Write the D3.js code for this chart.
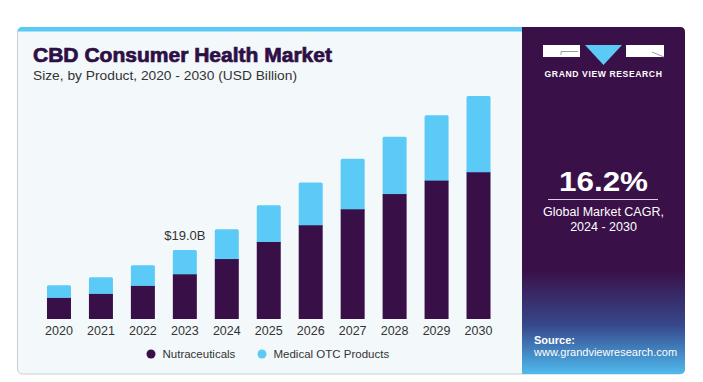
<!DOCTYPE html>
<html><head><meta charset="utf-8">
<script src="https://cdn.jsdelivr.net/npm/d3@7/dist/d3.min.js"></script>
<style>body{margin:0;background:#fff;}svg{display:block;}</style>
</head><body>
<svg id="c" width="703" height="382"></svg>
<script>
const years = ["2020","2021","2022","2023","2024","2025","2026","2027","2028","2029","2030"];
const nutraceuticals = [5.8, 6.9, 9.1, 12.3, 16.5, 21.2, 25.8, 30.2, 34.4, 38.1, 40.4];
const medicalOTC = [3.5, 4.6, 5.7, 6.7, 8.2, 10.1, 11.8, 13.9, 15.8, 18.0, 21.0];
const seriesNames = ["Nutraceuticals", "Medical OTC Products"];
const seriesColors = ["#381047", "#5ccaf6"];
const annotation = {year: "2023", text: "$19.0B"};

const svg = d3.select("#c");
const defs = svg.append("defs");
const grad = defs.append("linearGradient").attr("id","pg").attr("x1",0).attr("y1",0).attr("x2",0).attr("y2",1);
grad.append("stop").attr("offset","0").attr("stop-color","#3a1049");
grad.append("stop").attr("offset","0.70").attr("stop-color","#3a1049");
grad.append("stop").attr("offset","0.86").attr("stop-color","#36488b");
grad.append("stop").attr("offset","1").attr("stop-color","#4fbaee");

// card
svg.append("rect").attr("x",17.5).attr("y",27.5).attr("width",667).attr("height",346.5).attr("rx",5)
  .attr("fill","#f3f8fb").attr("stroke","#c9cdd0").attr("stroke-width",1);
svg.append("path").attr("d","M17.5,32 Q17.5,27 22.5,27 L522,27 L522,31.5 L17.5,31.5 Z").attr("fill","#5ccaf6");
// right panel
svg.append("path").attr("d","M522,27 L680,27 Q685,27 685,32 L685,369 Q685,374 680,374 L522,374 Z").attr("fill","url(#pg)");

// logo
const lg = svg.append("g");
lg.append("rect").attr("x",543).attr("y",45).attr("width",37).attr("height",12).attr("fill","#fff");
lg.append("path").attr("d","M561,55 L561,51.5 L578,51.5").attr("fill","none").attr("stroke","#8a7f92").attr("stroke-width",0.8);
lg.append("path").attr("d","M585,45 L622,45 L603.5,65 Z").attr("fill","#5ccaf6");
lg.append("rect").attr("x",626).attr("y",45).attr("width",38).attr("height",12).attr("fill","#fff");
lg.append("path").attr("d","M652,52 L664,57").attr("fill","none").attr("stroke","#8a7f92").attr("stroke-width",0.8);
svg.append("text").attr("x",603.5).attr("y",77).attr("text-anchor","middle").attr("fill","#fff")
  .attr("font-family","Liberation Sans, Arial, sans-serif").attr("font-weight","bold").attr("font-size",8.6)
  .attr("letter-spacing",0.6).text("GRAND VIEW RESEARCH");

// CAGR
svg.append("text").attr("x",603.5).attr("y",191).attr("text-anchor","middle").attr("fill","#fff")
  .attr("font-family","Liberation Sans, Arial, sans-serif").attr("font-weight","bold").attr("font-size",28)
  .attr("textLength",89).attr("lengthAdjust","spacingAndGlyphs").text("16.2%");
svg.append("line").attr("x1",548).attr("x2",658).attr("y1",199.5).attr("y2",199.5).attr("stroke","#d9cfe0").attr("stroke-width",1);
svg.append("text").attr("x",603.5).attr("y",216).attr("text-anchor","middle").attr("fill","#fff")
  .attr("font-family","Liberation Sans, Arial, sans-serif").attr("font-size",12.5).text("Global Market CAGR,");
svg.append("text").attr("x",603.5).attr("y",231).attr("text-anchor","middle").attr("fill","#fff")
  .attr("font-family","Liberation Sans, Arial, sans-serif").attr("font-size",12.5).text("2024 - 2030");
svg.append("text").attr("x",534).attr("y",344).attr("fill","#fff")
  .attr("font-family","Liberation Sans, Arial, sans-serif").attr("font-weight","bold").attr("font-size",11).text("Source:");
svg.append("text").attr("x",534).attr("y",356).attr("fill","#fff")
  .attr("font-family","Liberation Sans, Arial, sans-serif").attr("font-size",11).text("www.grandviewresearch.com");

// titles
svg.append("text").attr("x",33).attr("y",62).attr("fill","#2e0f45")
  .attr("font-family","Liberation Sans, Arial, sans-serif").attr("font-weight","900").attr("font-size",20)
  .attr("textLength",299).attr("lengthAdjust","spacingAndGlyphs").style("stroke","#2e0f45").style("stroke-width",0.7)
  .text("CBD Consumer Health Market");
svg.append("text").attr("x",33).attr("y",80).attr("fill","#333")
  .attr("font-family","Liberation Sans, Arial, sans-serif").attr("font-size",13.5)
  .attr("textLength",264).attr("lengthAdjust","spacingAndGlyphs")
  .text("Size, by Product, 2020 - 2030 (USD Billion)");

// scales
const x = d3.scaleBand().domain(years).range([38, 499.5]).paddingInner(0.428).paddingOuter(0.214);
const y = d3.scaleLinear().domain([0, 70]).range([319, 319 - 70*3.632]);

const data = years.map((yr,i)=>({year:yr, a:nutraceuticals[i], b:medicalOTC[i]}));
const g = svg.append("g");
data.forEach(d=>{
  g.append("rect").attr("x",x(d.year)).attr("width",x.bandwidth())
    .attr("y",y(d.a+d.b)).attr("height",y(d.a)-y(d.a+d.b)+2).attr("rx",1.5)
    .attr("fill",seriesColors[1]);
  g.append("rect").attr("x",x(d.year)).attr("width",x.bandwidth())
    .attr("y",y(d.a)).attr("height",y(0)-y(d.a))
    .attr("fill",seriesColors[0]);
});

// x axis labels
const xa = svg.append("g").attr("transform","translate(0,319)").call(d3.axisBottom(x).tickSize(0).tickPadding(4));
xa.select(".domain").remove();
xa.selectAll("text").attr("font-family","Liberation Sans, Arial, sans-serif").attr("font-size",12.5).attr("fill","#333").attr("dy","0.95em");

// annotation
const ad = data.find(d=>d.year===annotation.year);
svg.append("text").attr("x",x(ad.year)+x.bandwidth()/2).attr("y",y(ad.a+ad.b)-10).attr("text-anchor","middle")
  .attr("font-family","Liberation Sans, Arial, sans-serif").attr("font-size",13).attr("fill","#333").text(annotation.text);

// legend
const legX = [151, 262];
seriesNames.forEach((n,i)=>{
  svg.append("circle").attr("cx",legX[i]).attr("cy",354).attr("r",4.5).attr("fill",seriesColors[i]);
  svg.append("text").attr("x",legX[i]+11.5).attr("y",358).attr("font-family","Liberation Sans, Arial, sans-serif")
    .attr("font-size",11.5).attr("fill","#333").text(n);
});
</script>
</body></html>
